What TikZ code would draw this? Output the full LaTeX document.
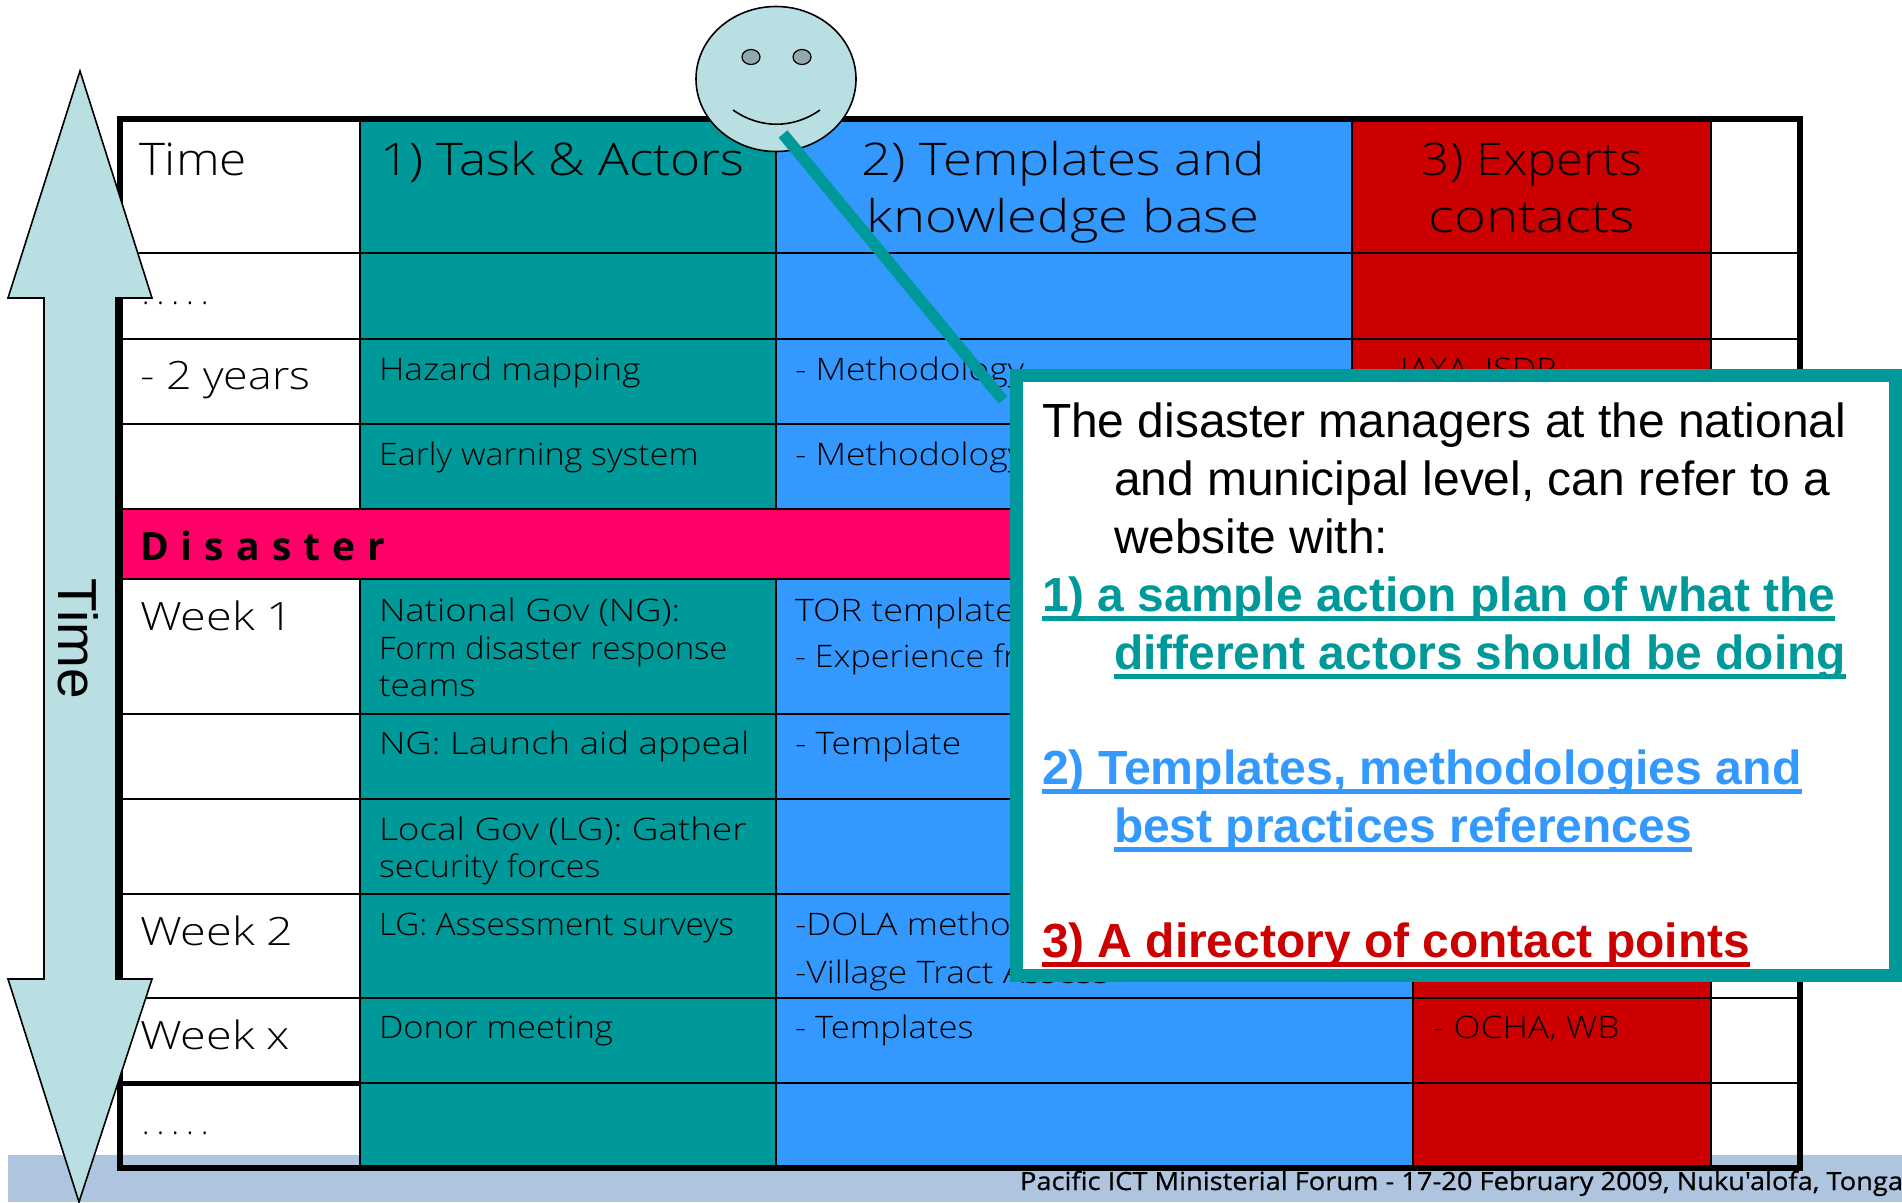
\documentclass[tikz,border=0pt]{standalone}
\usepackage{fontspec}
\usetikzlibrary{shapes.geometric}
\setmainfont{Liberation Sans}
\newfontfamily\thinf{Open Sans Light}
\newfontfamily\footf[FakeBold=0.6]{Open Sans}
\newfontfamily\dotf[LetterSpace=24]{Open Sans Light}
\newfontfamily\spacedf[LetterSpace=31]{Open Sans}[BoldFont={Open Sans Bold}]
\newcommand{\sx}[2]{\scalebox{#1}[1]{#2}}
\definecolor{teal1}{HTML}{009999}
\definecolor{blue1}{HTML}{3399FF}
\definecolor{red1}{HTML}{CC0000}
\definecolor{pink1}{HTML}{FF0066}
\definecolor{band1}{HTML}{AFC4DF}
\definecolor{ice1}{HTML}{B9DFE2}
\definecolor{eye1}{HTML}{92A8AC}
\tikzset{
  x=1pt,y=-1pt,
  txt/.style={anchor=base west,inner sep=0pt,outer sep=0pt,text=black},
  big/.style={txt,font=\thinf\fontsize{45}{45}\selectfont},
  mid/.style={txt,font=\thinf\fontsize{39}{39}\selectfont},
  small/.style={txt,font=\thinf\fontsize{31}{31}\selectfont},
  lead/.style={anchor=base west,inner sep=0pt,outer sep=0pt,font=\fontsize{47.9}{47.9}\selectfont},
  leadb/.style={lead,font=\bfseries\fontsize{47.9}{47.9}\selectfont},
  grid1/.style={draw=black,line width=2.8pt},
  gridc/.style={draw=black,line width=2.4pt},
  ice/.style={fill=ice1,draw=black,line width=1.6pt},
  ul/.style={line width=5pt},
}
\begin{document}
\begin{tikzpicture}
\useasboundingbox (0,0) rectangle (1902,1202);
% footer band
\fill[band1] (8,1155) rectangle (1902,1202);
% column fills
\fill[teal1] (360,120) rectangle (776,1168);
\fill[blue1] (776,120) rectangle (1352,509);
\fill[blue1] (776,579) rectangle (1413,1168);
\fill[red1] (1352,120) rectangle (1711,509);
\fill[red1] (1413,579) rectangle (1711,1168);
% grid
\foreach \r in {253,339,424,714,799,894,998,1083}
  \draw[grid1] (120,\r) -- (1800,\r);
\foreach \c in {360,776,1711}
  \draw[gridc] (\c,120) -- (\c,1168);
\draw[gridc] (1352,120) -- (1352,509);
\draw[gridc] (1413,579) -- (1413,1168);
\draw[black,line width=5pt] (120,1083) -- (360,1083);
% disaster band
\fill[pink1] (120,509) rectangle (1800,579);
\draw[grid1] (120,509) -- (1800,509);
\draw[grid1] (120,579) -- (1800,579);
% border
\draw[black,line width=6pt] (120,119) rectangle (1800,1168);
% headers
\node[big] (hTime) at (139,175) {\sx{1.10}{Time}};
\node[big] (hTask) at (380,175) {\sx{1.14}{1) Task \& Actors}};
\node[big,anchor=base] (hTmplA) at (1063,175) {\sx{1.17}{2) Templates and}};
\node[big,anchor=base] (hTmplB) at (1063,232) {\sx{1.21}{knowledge base}};
\node[big,anchor=base] (hExpA) at (1532,175) {\sx{1.09}{3) Experts}};
\node[big,anchor=base] (hExpB) at (1532,232) {\sx{1.21}{contacts}};
% time column
\node[small,font=\dotf\fontsize{31}{31}\selectfont] (tDotsA) at (142,304) {.....};
\node[mid] (tTwo) at (140,389) {\sx{1.15}{- 2 years}};
\node[mid] (tW1) at (140,630) {\sx{1.2}{Week 1}};
\node[mid] (tW2) at (140,945) {\sx{1.2}{Week 2}};
\node[mid] (tWx) at (140,1049) {\sx{1.2}{Week x}};
\node[small,font=\dotf\fontsize{31}{31}\selectfont] (tDotsB) at (142,1134) {.....};
% disaster
\node[txt,font=\spacedf\bfseries\fontsize{39}{39}\selectfont] (dis) at (140,560) {Disaster};
% tasks
\node[small] (a1) at (379,380) {\sx{1.14}{Hazard mapping}};
\node[small] (a2) at (379,465) {\sx{1.096}{Early warning system}};
\node[small] (a3) at (379,621) {\sx{1.18}{National Gov (NG):}};
\node[small] (a4) at (379,659) {\sx{1.06}{Form disaster response}};
\node[small] (a5) at (379,696) {\sx{1.13}{teams}};
\node[small] (a6) at (379,754) {\sx{1.18}{NG: Launch aid appeal}};
\node[small] (a7) at (379,840) {\sx{1.19}{Local Gov (LG): Gather}};
\node[small] (a8) at (379,877) {\sx{1.10}{security forces}};
\node[small] (a9) at (379,935) {\sx{1.07}{LG: Assessment surveys}};
\node[small] (a10) at (379,1038) {\sx{1.115}{Donor meeting}};
% templates
\node[small] (b1) at (795,380) {\sx{1.14}{- Methodology}};
\node[small] (b2) at (795,465) {\sx{1.14}{- Methodology}};
\node[small] (b3) at (795,621) {\sx{1.16}{TOR templates}};
\node[small] (b4) at (795,667) {\sx{1.1}{- Experience from}};
\node[small] (b5) at (795,754) {\sx{1.14}{- Template}};
\node[small] (b6) at (795,935) {\sx{1.14}{-DOLA methods}};
\node[small] (b7) at (795,983) {\sx{1.14}{-Village Tract Assess}};
\node[small] (b8) at (795,1038) {\sx{1.115}{- Templates}};
% experts
\node[small] (c1) at (1400,380) {\sx{1.11}{JAXA, ISDR}};
\node[small] (c2) at (1433,1038) {\sx{1.14}{- OCHA, WB}};
% footer
\node[txt,font=\footf\fontsize{25}{25}\selectfont] (foot) at (1020,1190) {\sx{1.09}{Pacific ICT Ministerial Forum - 17-20 February 2009, Nuku'alofa, Tonga}};
% time arrow
\draw[ice] (80,71) -- (152,298) -- (116,298) -- (116,979) -- (152,979) -- (79,1202) -- (8,979) -- (44,979) -- (44,298) -- (8,298) -- cycle;
\node[anchor=center,inner sep=0pt,rotate=-90,font=\fontsize{55}{55}\selectfont] (arrowLabel) at (78,639) {Time};
% face
\node[ellipse,draw=black,line width=1.6pt,fill=ice1,minimum width=160pt,minimum height=145pt,inner sep=0pt] (face) at (776,79) {};
\node[ellipse,draw=black,line width=1.2pt,fill=eye1,minimum width=18pt,minimum height=15pt,inner sep=0pt] (eyeL) at (751,57) {};
\node[ellipse,draw=black,line width=1.2pt,fill=eye1,minimum width=18pt,minimum height=15pt,inner sep=0pt] (eyeR) at (802,57) {};
\coordinate (smileL) at (733,110);
\coordinate (smileR) at (820,110);
\draw[black,line width=1.6pt] (smileL) .. controls (760,129) and (793,129) .. (smileR);
% pointer
\coordinate (ptrStart) at (783,134);
\coordinate (ptrEnd) at (1003,400);
\draw[teal1,line width=11.5pt] (ptrStart) -- (ptrEnd);
% callout
\node[rectangle,draw=teal1,line width=13pt,fill=white,minimum width=879pt,minimum height=600pt,inner sep=0pt] (callout) at (1456,675) {};
\node[lead] (l1) at (1042,437) {The disaster managers at the national};
\node[lead] (l2) at (1114,495) {and municipal level, can refer to a};
\node[lead] (l3) at (1114,553) {website with:};
\node[leadb,text=teal1] (l4) at (1042,611) {1) a sample action plan of what the};
\node[leadb,text=teal1] (l5) at (1114,669) {different actors should be doing};
\node[leadb,text=blue1] (l6) at (1042,784) {\sx{1.006}{2) Templates, methodologies and}};
\node[leadb,text=blue1] (l7) at (1114,842) {best practices references};
\node[leadb,text=red1] (l8) at (1042,957) {3) A directory of contact points};
\draw[teal1,ul] ([yshift=-7pt]l4.base west) -- ([yshift=-7pt]l4.base east);
\draw[teal1,ul] ([yshift=-7pt]l5.base west) -- ([yshift=-7pt]l5.base east);
\draw[blue1,ul] ([yshift=-7pt]l6.base west) -- ([yshift=-7pt]l6.base east);
\draw[blue1,ul] ([yshift=-7pt]l7.base west) -- ([yshift=-7pt]l7.base east);
\draw[red1,ul] ([yshift=-7pt]l8.base west) -- ([yshift=-7pt]l8.base east);
\end{tikzpicture}
\end{document}
